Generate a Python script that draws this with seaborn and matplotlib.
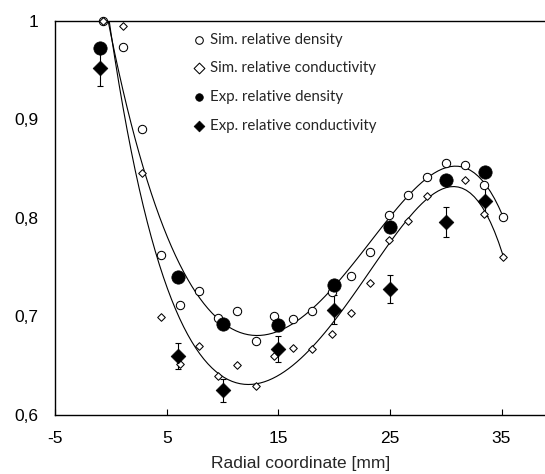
import matplotlib
matplotlib.use("Agg")
import matplotlib.pyplot as plt
from matplotlib.ticker import FuncFormatter
import pandas as pd
import seaborn as sns

# simulated profiles
sim_x = [-0.75, 1.03, 2.73, 4.43, 6.17, 7.87, 9.55, 11.25, 12.96, 14.62, 16.33,
         18.03, 19.77, 21.48, 23.2, 24.9, 26.59, 28.29, 30.0, 31.73, 33.43, 35.1]
sim_density = [1.0, 0.973, 0.890, 0.762, 0.712, 0.726, 0.698, 0.706, 0.675, 0.700, 0.697,
               0.706, 0.725, 0.741, 0.765, 0.803, 0.823, 0.841, 0.856, 0.854, 0.833, 0.801]
sim_conductivity = [1.0, 0.995, 0.845, 0.699, 0.652, 0.670, 0.640, 0.651, 0.629, 0.660, 0.668,
                    0.667, 0.682, 0.703, 0.734, 0.778, 0.797, 0.822, 0.835, 0.838, 0.804, 0.760]

# experimental values
exp_x = [-1, 6, 10, 15, 20, 25, 30, 33.5]
exp_density = [0.972, 0.740, 0.692, 0.691, 0.732, 0.791, 0.838, 0.847]
exp_conductivity = [0.952, 0.660, 0.625, 0.667, 0.707, 0.728, 0.796, 0.817]
exp_cond_err = [0.018, 0.013, 0.012, 0.013, 0.015, 0.0145, 0.0155, 0.015]

sim = pd.DataFrame({"x": sim_x, "density": sim_density, "conductivity": sim_conductivity})
exp = pd.DataFrame({"x": exp_x, "density": exp_density,
                    "conductivity": exp_conductivity, "err": exp_cond_err})

sns.set_style("white")
plt.rcParams["font.family"] = ["Liberation Sans", "DejaVu Sans"]
plt.rcParams["axes.unicode_minus"] = False

fig = plt.figure(figsize=(5.45, 4.74), dpi=100)
ax = fig.add_axes([0.1018, 0.1245, 0.8982, 0.8318])

# polynomial trendlines through the simulated data
for col in ["density", "conductivity"]:
    sns.regplot(data=sim, x="x", y=col, order=5, ci=None, scatter=False, ax=ax,
                line_kws=dict(color="black", lw=0.8))

ax.errorbar(exp["x"], exp["conductivity"], yerr=exp["err"], fmt="none",
            ecolor="black", elinewidth=0.8, capsize=2.4, capthick=0.8, zorder=3)

sns.scatterplot(data=sim, x="x", y="density", marker="o", s=36, facecolor="white",
                edgecolor="black", linewidth=0.75, ax=ax, label="Sim. relative density",
                zorder=4, clip_on=False)
sns.scatterplot(data=sim, x="x", y="conductivity", marker="D", s=15, facecolor="white",
                edgecolor="black", linewidth=0.75, ax=ax, label="Sim. relative conductivity",
                zorder=4, clip_on=False)
sns.scatterplot(data=exp, x="x", y="density", marker="o", s=92, color="black",
                edgecolor="black", linewidth=0.5, ax=ax, label="Exp. relative density",
                zorder=5, clip_on=False)
sns.scatterplot(data=exp, x="x", y="conductivity", marker="D", s=56, color="black",
                edgecolor="black", linewidth=0.5, ax=ax, label="Exp. relative conductivity",
                zorder=5, clip_on=False)

ax.set_xlim(-5, 38.9)
ax.set_ylim(0.6, 1.0)
ax.set_xticks([-5, 5, 15, 25, 35])
ax.set_yticks([0.6, 0.7, 0.8, 0.9, 1.0])
ax.yaxis.set_major_formatter(FuncFormatter(lambda v, p: f"{v:g}".replace(".", ",")))
ax.tick_params(axis="x", direction="in", length=4.5, width=0.8, pad=11.5,
               labelsize=12.5, colors="black", bottom=True)
ax.tick_params(axis="y", length=0, pad=12, labelsize=12.5, colors="black")
ax.set_xlabel("Radial coordinate [mm]", fontsize=12.5, labelpad=7)
ax.set_ylabel("")

for side in ["left", "bottom", "top"]:
    ax.spines[side].set_visible(True)
    ax.spines[side].set_color("black")
    ax.spines[side].set_linewidth(1.0)
ax.spines["right"].set_visible(False)

leg = ax.legend(loc="upper left", bbox_to_anchor=(0.285, 0.97), frameon=False,
                prop={"family": ["Lato", "DejaVu Sans"], "size": 10.8},
                handlelength=0.6, handletextpad=0.4, labelspacing=0.98, borderpad=0,
                borderaxespad=0)
for h in leg.legend_handles:
    h.set_sizes([30])

fig.savefig("out.png", dpi=100)
